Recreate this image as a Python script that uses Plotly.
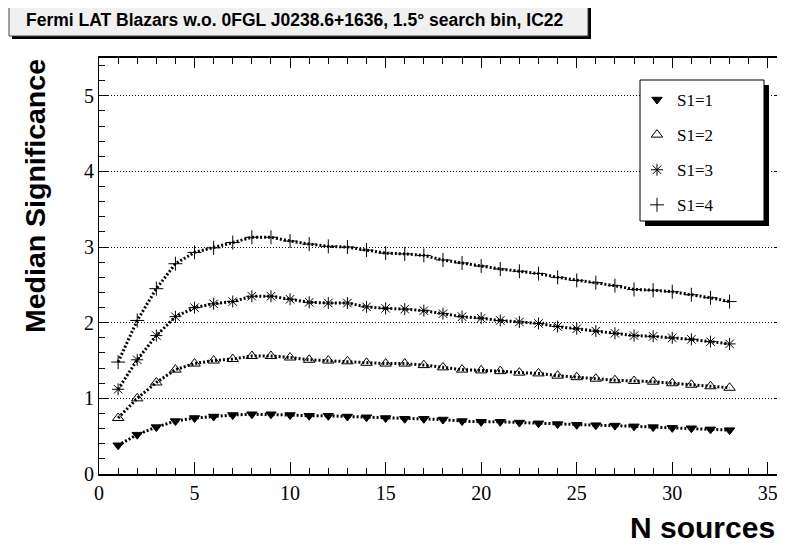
import plotly.graph_objects as go

# N sources on the x axis
n_sources = list(range(1, 34))

# median significance per S1 setting
s1_1 = [0.38, 0.52, 0.62, 0.70, 0.74, 0.76, 0.78, 0.79, 0.79, 0.78, 0.77, 0.77,
        0.76, 0.75, 0.74, 0.73, 0.73, 0.72, 0.70, 0.69, 0.69, 0.68, 0.67, 0.66,
        0.65, 0.645, 0.64, 0.63, 0.62, 0.61, 0.605, 0.59, 0.58]
s1_2 = [0.74, 1.00, 1.21, 1.38, 1.46, 1.50, 1.52, 1.56, 1.56, 1.54, 1.51, 1.50,
        1.49, 1.47, 1.46, 1.46, 1.44, 1.41, 1.38, 1.37, 1.36, 1.34, 1.33, 1.30,
        1.28, 1.26, 1.24, 1.23, 1.22, 1.20, 1.18, 1.16, 1.14]
s1_3 = [1.12, 1.51, 1.83, 2.08, 2.20, 2.25, 2.28, 2.35, 2.35, 2.31, 2.27, 2.26,
        2.26, 2.21, 2.19, 2.18, 2.16, 2.12, 2.08, 2.06, 2.03, 2.01, 1.99, 1.95,
        1.92, 1.89, 1.86, 1.83, 1.82, 1.80, 1.78, 1.75, 1.72]
s1_4 = [1.48, 2.03, 2.45, 2.78, 2.93, 2.99, 3.06, 3.13, 3.13, 3.08, 3.04, 3.01,
        3.00, 2.96, 2.92, 2.91, 2.89, 2.83, 2.79, 2.75, 2.71, 2.68, 2.65, 2.60,
        2.56, 2.53, 2.49, 2.44, 2.43, 2.41, 2.37, 2.33, 2.28]

series = [
    ("S1=1", s1_1, "triangle-down", 9),
    ("S1=2", s1_2, "triangle-up-open", 10),
    ("S1=3", s1_3, "asterisk-open", 10),
    ("S1=4", s1_4, "cross-thin-open", 10),
]

# page has an 8px body margin, so the figure is offset on screen
OFF = 8
W, H = 777, 542
L, R, T, B = 91, 0, 50, 76
XR = [0, 35.9]
YR = [0, 5.5]


def px(sx):
    return (sx - OFF - L) / (W - L - R)


def py(sy):
    return (H - B - (sy - OFF)) / (H - T - B)


fig = go.Figure()

for name, vals, sym, size in series:
    fig.add_trace(go.Scatter(x=n_sources, y=vals, mode="lines",
                             line=dict(color="black", width=3, dash="2px,2px"),
                             showlegend=False, hoverinfo="skip"))
    fig.add_trace(go.Scatter(x=n_sources, y=vals, mode="markers", name=name,
                             legendgroup=name,
                             marker=dict(symbol=sym, size=size, color="black",
                                         line=dict(color="black", width=1))))

# invisible helper trace so the top/right tick axes get drawn
fig.add_trace(go.Scatter(x=n_sources, y=s1_1, xaxis="x2", yaxis="y2",
                         mode="lines", line=dict(width=0), opacity=0,
                         showlegend=False, hoverinfo="skip"))

shapes = [
    # title box + shadow
    dict(type="rect", xref="paper", yref="paper", x0=px(12), x1=px(591),
         y0=py(7), y1=py(39), fillcolor="black", line=dict(width=0)),
    dict(type="rect", xref="paper", yref="paper", x0=px(9), x1=px(588),
         y0=py(4), y1=py(36), fillcolor="#f0f0f0", line=dict(color="#444", width=1)),
    # legend box + shadow
    dict(type="rect", xref="paper", yref="paper", x0=px(645), x1=px(769),
         y0=py(85), y1=py(226), fillcolor="black", line=dict(width=0)),
    dict(type="rect", xref="paper", yref="paper", x0=px(640), x1=px(764),
         y0=py(80), y1=py(221), fillcolor="white", line=dict(color="black", width=1)),
]

annotations = [
    dict(text="<b>Fermi LAT Blazars w.o. 0FGL J0238.6+1636, 1.5° search bin, IC22</b>",
         xref="paper", yref="paper", x=px(295), y=py(20), showarrow=False,
         xanchor="center", yanchor="middle",
         font=dict(family="Liberation Sans", size=17.5, color="black")),
    dict(text="<b>Median Significance</b>", xref="paper", yref="paper",
         x=px(35), y=py(196), showarrow=False, textangle=-90,
         xanchor="center", yanchor="middle",
         font=dict(family="Liberation Sans", size=28.5, color="black")),
    dict(text="<b>N sources</b>", xref="paper", yref="paper",
         x=px(777), y=py(527), showarrow=False,
         xanchor="right", yanchor="middle",
         font=dict(family="Liberation Sans", size=30, color="black")),
]

tickfont = dict(family="Liberation Serif", size=20, color="black")

fig.update_layout(
    width=W, height=H,
    margin=dict(l=L, r=R, t=T, b=B),
    paper_bgcolor="white", plot_bgcolor="white",
    shapes=shapes, annotations=annotations,
    legend=dict(x=px(637), y=py(82), xanchor="left", yanchor="top",
                bgcolor="rgba(0,0,0,0)", borderwidth=0,
                traceorder="grouped", tracegroupgap=10,
                font=dict(family="Liberation Serif", size=17, color="black")),
    xaxis=dict(range=XR, tickvals=[0, 5, 10, 15, 20, 25, 30, 35],
               ticks="inside", ticklen=12, tickcolor="black",
               minor=dict(dtick=1, ticks="inside", ticklen=6, tickcolor="black",
                          showgrid=False),
               showline=True, linecolor="black", linewidth=2, mirror=True,
               showgrid=False, zeroline=False, tickfont=tickfont),
    yaxis=dict(range=YR, tickvals=[0, 1, 2, 3, 4, 5],
               ticks="inside", ticklen=10, tickcolor="black",
               minor=dict(dtick=0.2, ticks="inside", ticklen=6, tickcolor="black",
                          showgrid=False),
               showline=True, linecolor="black", linewidth=1, mirror=True,
               showgrid=True, gridcolor="black", griddash="1px,2px", gridwidth=1,
               zeroline=False, tickfont=tickfont),
    xaxis2=dict(range=XR, overlaying="x", side="top", anchor="y2",
                tickvals=[0, 5, 10, 15, 20, 25, 30, 35], showticklabels=False,
                ticks="inside", ticklen=10, tickcolor="black",
                minor=dict(dtick=1, ticks="inside", ticklen=6, tickcolor="black"),
                showgrid=False, zeroline=False, showline=False),
    yaxis2=dict(range=YR, overlaying="y", side="right", anchor="x2",
                tickvals=[0, 1, 2, 3, 4, 5], showticklabels=False,
                ticks="inside", ticklen=10, tickcolor="black",
                minor=dict(dtick=0.2, ticks="inside", ticklen=6, tickcolor="black"),
                showgrid=False, zeroline=False, showline=False),
)

fig.write_html("out.html")
